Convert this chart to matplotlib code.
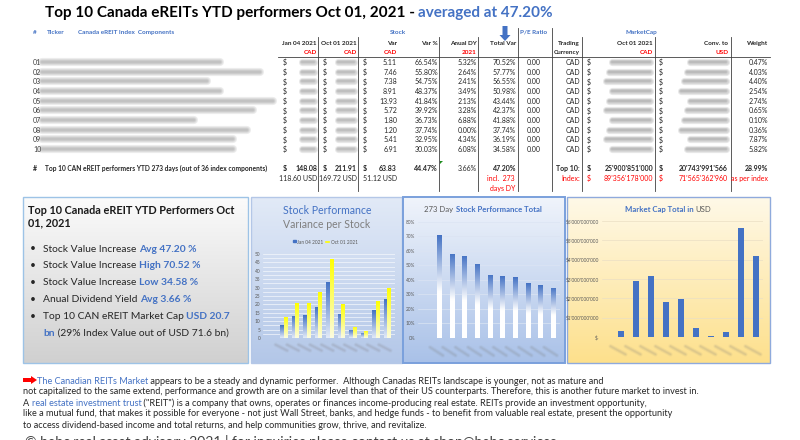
import numpy as np
import matplotlib
matplotlib.use('Agg')
import matplotlib.pyplot as plt
import matplotlib.transforms as mtransforms
from matplotlib.colors import LinearSegmentedColormap, to_rgb
from matplotlib.patches import Rectangle, FancyArrow

plt.rcParams['font.family'] = ['Lato', 'DejaVu Sans']

# ---- data ----
rows = ['01', '02', '03', '04', '05', '06', '07', '08', '09', '10']
name_chars = [27, 33, 25, 27, 35, 32, 23, 31, 29, 29]   # hidden (blurred) names
jan_04 = [7.68, 13.37, 13.48, 18.42, 33.29, 14.33, 4.90, 3.18, 16.42, 23.01]
oct_01 = [12.79, 20.83, 20.86, 27.33, 47.22, 20.05, 6.70, 4.38, 21.83, 29.92]
var_cad = [5.11, 7.46, 7.38, 8.91, 13.93, 5.72, 1.80, 1.20, 5.41, 6.91]
var_pct = [66.54, 55.80, 54.75, 48.37, 41.84, 39.92, 36.73, 37.74, 32.95, 30.03]
div_yield = [5.32, 2.64, 2.41, 3.49, 2.13, 3.28, 6.88, 0.00, 4.34, 6.08]
total_var = [70.52, 57.77, 56.55, 50.98, 43.44, 42.37, 41.88, 37.74, 36.19, 34.58]
pe_ratio = [0.00] * 10
currency = ['CAD'] * 10
weight = [0.47, 4.03, 4.40, 2.54, 2.74, 0.65, 0.10, 0.36, 7.87, 5.82]
mcap_usd = [0.336e9, 2.884e9, 3.149e9, 1.818e9, 1.961e9, 0.465e9,
            0.072e9, 0.258e9, 5.632e9, 4.165e9]

BLUE = '#4472C4'
RED = '#FF0000'
DARK = '#262626'

fig = plt.figure(figsize=(8, 4.4), dpi=100)
ax0 = fig.add_axes([0, 0, 1, 1])
ax0.axis('off')
R = fig.canvas.get_renderer()


def txt(x, y, s, size=5.5, color=DARK, ha='left', weight='normal', **kw):
    return ax0.text(x, y, s, fontsize=size, color=color, ha=ha,
                    va='center_baseline', fontweight=weight, **kw)


def width_of(s, size, weight):
    t = ax0.text(0, 0, s, fontsize=size, fontweight=weight)
    w = t.get_window_extent(R).width
    t.remove()
    return w


def runs(x, y, parts, size, ha='left'):
    """parts: (text, colour, weight) drawn one after another"""
    items = []
    for s, c, w in parts:
        core = s.rstrip(' ')
        gap = (len(s) - len(core)) * (width_of('x x', size, w) - width_of('xx', size, w))
        items.append((core, c, w, width_of(core, size, w) + gap))
    if ha == 'center':
        x -= sum(i[3] for i in items) / 2
    for core, c, w, wd in items:
        txt(x, y, core, size, c, weight=w)
        x += wd


def smudge(x0, x1, y, h=5, color='#8c8c8c', alpha=0.16, ax=None, **kw):
    ax = ax or ax0
    for k in (1.8, 1.3, 0.9, 0.5):
        ax.plot([x0, x1], [y, y], color=color, lw=h * k * 0.72, alpha=alpha,
                solid_capstyle='round', **kw)


def panel(x0, y0, x1, y1, top, bottom, edge, lw=1.0):
    g = np.linspace(0, 1, 200)[:, None, None]
    img = (1 - g) * np.array(to_rgb(top)) + g * np.array(to_rgb(bottom))
    ax0.imshow(img, extent=[x0, x1, y1, y0], origin='upper', aspect='auto', zorder=0)
    ax0.add_patch(Rectangle((x0, y0), x1 - x0, y1 - y0, fill=False,
                            edgecolor=edge, lw=lw, zorder=1))


# ---- title ----
txt(45, 11, 'Top 10 Canada eREITs YTD performers Oct 01, 2021 -', 11, '#000000', weight='bold')
txt(418, 11, 'averaged at 47.20%', 11, BLUE, weight='bold')

# ---- table headers ----
hs = 4.6
txt(33, 32, '#', hs, BLUE, weight='bold')
txt(47, 32, 'Ticker', hs, BLUE, weight='bold')
txt(78, 32, 'Canada eREIT Index  Components', hs, BLUE, weight='bold')
txt(398, 32, 'Stock', hs, BLUE, ha='center', weight='bold')
txt(534, 32, 'P/E Ratio', hs, BLUE, ha='center', weight='bold')
txt(641, 32, 'MarketCap', hs, BLUE, ha='center', weight='bold')

col_r = dict(jan=317, oct=357, var=397, varp=438, dy=477, tv=516, pe=541,
             cur=580, mc=653, usd=728, w=768)
for key, lab in [('jan', 'Jan 04 2021'), ('oct', 'Oct 01 2021'), ('var', 'Var'),
                 ('varp', 'Var %'), ('dy', 'Anual DY'), ('tv', 'Total Var'),
                 ('cur', 'Trading'), ('mc', 'Oct 01 2021'), ('usd', 'Conv. to'),
                 ('w', 'Weight')]:
    txt(col_r[key], 43, lab, hs, DARK, ha='right', weight='bold')
for key, lab, c in [('jan', 'CAD', RED), ('oct', 'CAD', RED), ('var', 'CAD', RED),
                    ('dy', '2021', RED), ('cur', 'Currency', DARK),
                    ('mc', 'CAD', RED), ('usd', 'USD', RED)]:
    txt(col_r[key], 52, lab, hs, c, ha='right', weight='bold')

ax0.add_patch(FancyArrow(505, 26, 0, 9, width=5, head_width=11, head_length=6,
                         length_includes_head=False, color=BLUE, lw=0))

for xv, top in [(318, 37), (358, 37), (439, 37), (478, 37), (518, 28),
                (552, 28), (582, 37), (655, 37), (731, 37)]:
    ax0.plot([xv, xv], [top, 191], color='#404040', lw=0.6)
ax0.plot([278, 770], [57, 57], color='#404040', lw=0.6)

# ---- table rows ----
fs = 5.0
for i, r in enumerate(rows):
    y = 62 + i * 9.67
    txt(33, y, r, fs, '#404040')
    smudge(42, 42 + name_chars[i] * 6.6, y, 4.5, '#7f7f7f', 0.14)
    for xd in (283, 323, 363, 587, 659):
        txt(xd, y, '$', fs)
    smudge(302, 314, y, 4, '#8c8c8c', 0.18)
    smudge(338, 354, y, 4, '#8c8c8c', 0.18)
    smudge(612 - (i % 3) * 3, 650, y, 4, '#7f7f7f', 0.17)
    smudge(690 - (i % 4) * 3, 726, y, 4, '#7f7f7f', 0.17)
    txt(col_r['var'], y, f'{var_cad[i]:.2f}', fs, ha='right')
    txt(col_r['varp'], y, f'{var_pct[i]:.2f}%', fs, ha='right')
    txt(col_r['dy'], y, f'{div_yield[i]:.2f}%', fs, ha='right')
    txt(col_r['tv'], y, f'{total_var[i]:.2f}%', fs, ha='right')
    txt(col_r['pe'], y, f'{pe_ratio[i]:.2f}', fs, ha='right')
    txt(col_r['cur'], y, currency[i], fs, ha='right')
    txt(col_r['w'], y, f'{weight[i]:.2f}%', fs, ha='right')

# summary rows
ys = 168
txt(33, ys, '#', fs, weight='bold')
txt(45, ys, 'Top 10 CAN eREIT performers YTD 273 days (out of 36 index components)',
    4.75, weight='bold')
for xd in (283, 323, 363, 587, 659):
    txt(xd, ys, '$', fs, weight='bold')
txt(col_r['jan'], ys, f'{sum(jan_04):.2f}', fs, ha='right', weight='bold')
txt(col_r['oct'], ys, f'{sum(oct_01):.2f}', fs, ha='right', weight='bold')
txt(col_r['var'], ys, f'{sum(var_cad):.2f}', fs, ha='right', weight='bold')
txt(col_r['varp'], ys, '44.47%', fs, ha='right', weight='bold')
ax0.fill([440, 443, 440], [161, 161, 164], color='#1e8c1e', lw=0)
txt(col_r['dy'], ys, '3.66%', fs, ha='right')
txt(col_r['tv'], ys, '47.20%', fs, ha='right', weight='bold')
txt(col_r['cur'], ys, 'Top 10:', fs, ha='right', weight='bold')
txt(col_r['mc'], ys, "25'900'851'000", fs, ha='right', weight='bold')
txt(col_r['usd'], ys, "20'743'991'566", fs, ha='right', weight='bold')
txt(col_r['w'], ys, '28.99%', fs, ha='right', weight='bold')

yu = 178
txt(col_r['jan'], yu, '118.60 USD', fs, ha='right')
txt(col_r['oct'], yu, '169.72 USD', fs, ha='right')
txt(col_r['var'], yu, '51.12 USD', fs, ha='right')
txt(515, yu, 'incl.  273', fs, RED, ha='right')
txt(515, 188, 'days DY', fs, RED, ha='right')
txt(col_r['cur'], yu, 'Index:', fs, RED, ha='right')
txt(587, yu, '$', fs, RED)
txt(659, yu, '$', fs, RED)
txt(col_r['mc'], yu, "89'356'178'000", fs, RED, ha='right')
txt(col_r['usd'], yu, "71'565'362'960", fs, RED, ha='right')
txt(col_r['w'], yu, 'as per index', fs, RED, ha='right')

# ---- panels ----
panel(23, 197, 248, 363, '#fbfbfb', '#d0d0d0', '#9dc3e6')
panel(251, 197, 402, 363, '#e2eaf7', '#b3c7e8', '#b4c7e7')
panel(403, 197, 565, 363, '#f0f4fb', '#a9c1e8', '#7aa0dc', 1.4)
panel(567, 197, 770, 363, '#fff9e8', '#fde08c', '#8faadc')

# panel 1 text
txt(28, 209, 'Top 10 Canada eREIT YTD Performers Oct', 7.8, '#1a1a1a', weight='bold')
txt(28, 222, '01, 2021', 7.8, '#1a1a1a', weight='bold')
bs = 7.4
bullets = [
    [('Stock Value Increase ', DARK, 'normal'), ('Avg 47.20 %', BLUE, 'bold')],
    [('Stock Value Increase ', DARK, 'normal'), ('High 70.52 %', BLUE, 'bold')],
    [('Stock Value Increase ', DARK, 'normal'), ('Low 34.58 %', BLUE, 'bold')],
    [('Anual Dividend Yield ', DARK, 'normal'), ('Avg 3.66 %', BLUE, 'bold')],
    [('Top 10 CAN eREIT Market Cap ', DARK, 'normal'), ('USD 20.7', BLUE, 'bold')],
]
for k, parts in enumerate(bullets):
    y = 248 + k * 16.8
    txt(30, y, '•', bs, DARK)
    runs(43, y, parts, bs)
runs(43, 332, [('bn', BLUE, 'bold'), (' (29% Index Value out of USD 71.6 bn)', DARK, 'normal')], bs)

# panel 2 headers + legend
txt(327, 209, 'Stock Performance', 7.6, BLUE, ha='center')
txt(327, 223, 'Variance per Stock', 7.6, '#7f7f7f', ha='center')
ax0.add_patch(Rectangle((293, 240), 2.5, 2.5, color=BLUE))
txt(297, 242, 'Jan 04 2021', 3.4, '#595959')
ax0.plot([326, 329], [242, 242], color='#FFFF00', lw=1.2)
txt(331, 242, 'Oct 01 2021', 3.4, '#595959')

runs(483, 209, [('273 Day ', '#595959', 'normal'), ('Stock Performance Total', BLUE, 'bold')],
     5.6, ha='center')
runs(668, 209, [('Market Cap Total in ', BLUE, 'bold'), ('USD', '#595959', 'normal')],
     5.6, ha='center')

# ---- bottom text ----
bt = 6.6
ax0.add_patch(FancyArrow(23, 380, 8, 0, width=4, head_width=8, head_length=6,
                         color=RED, lw=0))
runs(37, 380, [('The Canadian REITs Market', BLUE, 'normal'),
               (' appears to be a steady and dynamic performer.  Although Canadas REITs '
                'landscape is younger, not as mature and', DARK, 'normal')], bt)
txt(23, 391, 'not capitalized to the same extend, performance and growth are on a similar '
    'level than that of their US counterparts. Therefore, this is another future market '
    'to invest in.', bt)
runs(23, 402, [('A ', DARK, 'normal'), ('real estate investment trust', BLUE, 'normal'),
               (' ("REIT") is a company that owns, operates or finances income-producing '
                'real estate. REITs provide an investment opportunity,', DARK, 'normal')], bt)
txt(23, 413, 'like a mutual fund, that makes it possible for everyone - not just Wall Street, '
    'banks, and hedge funds - to benefit from valuable real estate, present the opportunity', bt)
txt(23, 424, 'to access dividend-based income and total returns, and help communities grow, '
    'thrive, and revitalize.', bt)
txt(25, 441, '\u00a9 hebc real asset advisory 2021 | for inquiries please contact us at '
    'shop@hebc.services', 10, '#404040')

ax0.set_xlim(0, 800)
ax0.set_ylim(440, 0)


# ---- charts ----
def chart_ax(l, t, r, b):
    ax = fig.add_axes([l / 800, 1 - b / 440, (r - l) / 800, (b - t) / 440])
    ax.set_facecolor('none')
    for s in ax.spines.values():
        s.set_visible(False)
    ax.tick_params(length=0, labelsize=3.4, colors='#595959', pad=2)
    ax.set_xticks([])
    return ax


def gradient_bars(ax, bars, top, bottom, split=0.0):
    cmap = LinearSegmentedColormap.from_list('g', [(0, bottom), (split, bottom), (1, top)])
    grad = np.linspace(0, 1, 256)[:, None]
    for b in bars:
        x, y = b.get_xy()
        im = ax.imshow(grad, extent=[x, x + b.get_width(), y, y + b.get_height()],
                       origin='lower', aspect='auto', cmap=cmap, zorder=3)
        im.set_clip_path(b)
        b.set_facecolor('none')


def label_smudges(ax, n):
    tr = mtransforms.blended_transform_factory(ax.transData, ax.transAxes)
    for i in range(n):
        for k, a in ((3.2, 0.07), (2.0, 0.09), (1.0, 0.1)):
            ax.plot([i - 0.7, i + 0.3], [-0.08, -0.15], transform=tr, color='#7f7f7f',
                    lw=k, alpha=a, solid_capstyle='round', clip_on=False)


x = np.arange(len(rows))

ax1 = chart_ax(263, 254, 395, 338)
bj = ax1.bar(x - 0.15, jan_04, 0.28, zorder=3)
bo = ax1.bar(x + 0.15, oct_01, 0.28, zorder=3)
gradient_bars(ax1, bj, BLUE, '#e3ebf8')
gradient_bars(ax1, bo, '#FFFF00', '#fbfbe0')
ax1.set_yticks(range(0, 51, 5))
ax1.set_yticks(np.arange(0, 50.1, 2.5), minor=True)
ax1.tick_params(which='minor', length=0)
ax1.grid(which='both', axis='y', color='#f4f7fc', lw=0.5, zorder=1)
ax1.set_xlim(-1.8, 9.7)
ax1.set_ylim(0, 50)
label_smudges(ax1, len(rows))

ax2 = chart_ax(418, 221.6, 560, 338)
bt_ = ax2.bar(x, total_var, 0.32, zorder=3)
gradient_bars(ax2, bt_, BLUE, '#ffffff', 0.45)
ax2.set_yticks(range(0, 81, 10))
ax2.set_yticklabels([f'{v}%' for v in range(0, 81, 10)])
ax2.grid(axis='y', color='#dbe4f3', lw=0.5, zorder=1)
ax2.set_xlim(-1.66, 9.55)
ax2.set_ylim(0, 80)
label_smudges(ax2, len(rows))

ax3 = chart_ax(602, 221, 763, 337)
ax3.bar(x, mcap_usd, 0.35, color=BLUE, zorder=3)
ticks = np.arange(0, 6.01e9, 1e9)
ax3.set_yticks(ticks)
ax3.set_yticklabels(['$-'] + ['$' + f'{int(v):,}'.replace(',', "'") for v in ticks[1:]])
ax3.grid(axis='y', color='#eadfc4', lw=0.5, zorder=1)
ax3.set_xlim(-1.27, 9.47)
ax3.set_ylim(0, 6e9)
label_smudges(ax3, len(rows))

fig.savefig('out.png', dpi=100)
